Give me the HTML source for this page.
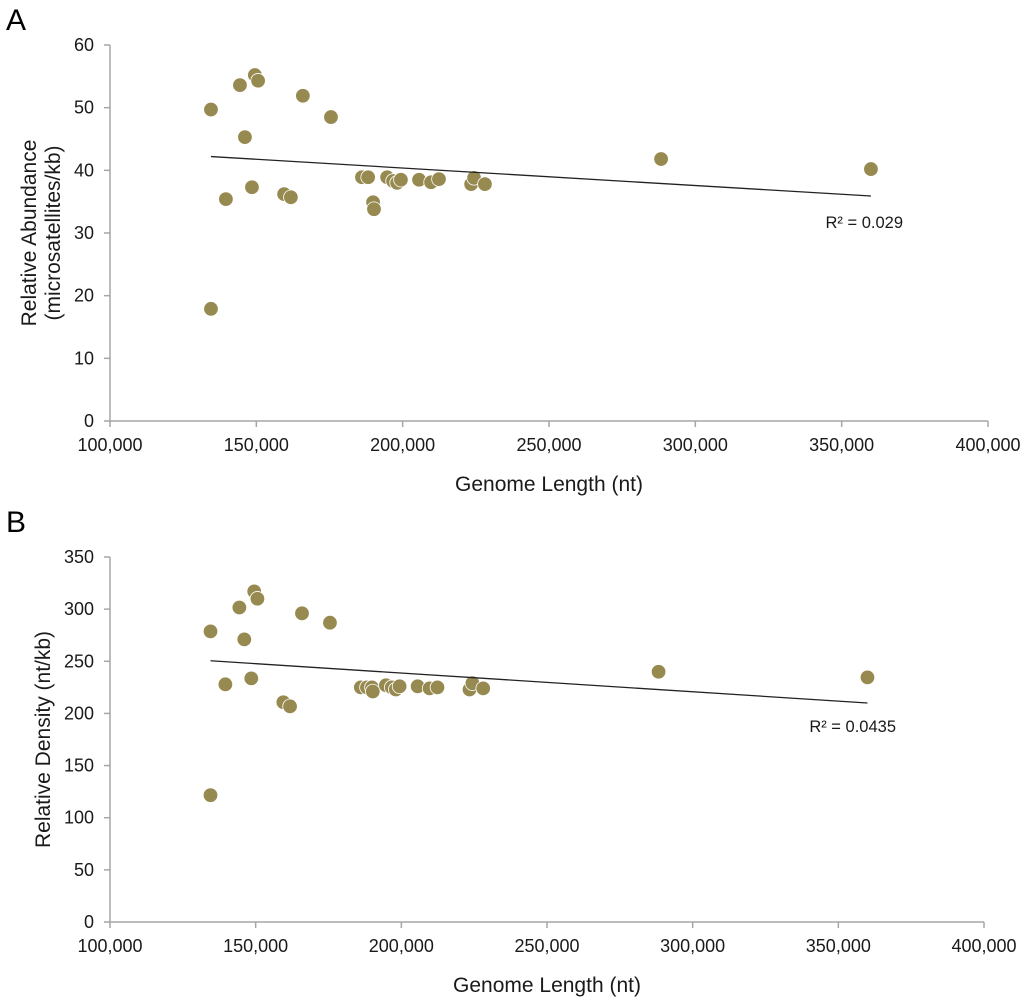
<!DOCTYPE html>
<html><head><meta charset="utf-8"><style>
html,body{margin:0;padding:0;background:#fff;}
svg{display:block;font-family:"Liberation Sans",Arial,sans-serif;}
</style></head><body>
<svg id="fig" width="1024" height="1000" viewBox="0 0 1024 1000" xmlns="http://www.w3.org/2000/svg">
<text x="6" y="30" font-size="30" fill="#000">A</text>
<text x="6" y="532" font-size="30" fill="#000">B</text>
<g id="chartA"></g>
<g id="chartB"></g>
</svg>
<script>
const genomeLength = [134500,134500,139600,144400,146100,148500,149500,150600,159500,161800,165900,175500,186100,188200,189900,190200,194700,196700,198100,199400,205600,209700,212400,223400,224400,228100,288300,360000];
const abundance = [49.7,17.9,35.4,53.6,45.3,37.3,55.2,54.3,36.2,35.7,51.9,48.5,38.9,38.9,34.9,33.8,38.9,38.3,38.0,38.5,38.5,38.1,38.6,37.8,38.8,37.8,41.8,40.2];
const densityX = [134500,134500,139600,144400,146100,148500,149500,150600,159500,161800,165900,175500,186100,188200,189900,190200,194700,196700,198100,199400,205600,209700,212400,223400,224400,228100,288300,360000];
const density = [278.7,121.6,227.9,301.6,271,233.6,317,310,210.7,206.8,296,287,225,225,225,221,227,225,223,226,226,224,225,223,229,224,240,234.6];
const trendA = [42.2,35.9];
const trendB = [250.5,210];
const xTicks = [100000,150000,200000,250000,300000,350000,400000];
const xTickLabels = ["100,000","150,000","200,000","250,000","300,000","350,000","400,000"];
const yTicksA = [0,10,20,30,40,50,60];
const yTicksB = [0,50,100,150,200,250,300,350];
const r2Labels = ["R² = 0.029","R² = 0.0435"];

const NS="http://www.w3.org/2000/svg";
function mk(parent,tag,attrs){const e=document.createElementNS(NS,tag);for(const k in attrs)e.setAttribute(k,attrs[k]);parent.appendChild(e);return e;}

function drawChart(g,cfg){
  const xs=v=>cfg.x0+(v-100000)/(400000-100000)*(cfg.x1-cfg.x0);
  const ys=v=>cfg.yb-(v-0)/(cfg.ymax)*(cfg.yb-cfg.yt);
  let ya=mk(g,'line',{x1:cfg.x0,y1:cfg.yt,x2:cfg.x0,y2:cfg.yb,stroke:'#a6a6a6','stroke-width':1.5});
  
  
  let xa=mk(g,'line',{x1:cfg.x0,y1:cfg.yb,x2:cfg.x1,y2:cfg.yb,stroke:'#a6a6a6','stroke-width':1.5});
  
  
  cfg.yTicks.forEach(t=>{
    const y=ys(t);
    let tk=mk(g,'line',{x1:cfg.x0-6,y1:y,x2:cfg.x0,y2:y,stroke:'#a6a6a6','stroke-width':1.5});
    
    
    let tx=mk(g,'text',{x:cfg.x0-16,y:y+6,'font-size':18,'text-anchor':'end',fill:'#1a1a1a'});
    tx.textContent=t;
    
    
  });
  xTicks.forEach((t,i)=>{
    const x=xs(t);
    let tk=mk(g,'line',{x1:x,y1:cfg.yb,x2:x,y2:cfg.yb+6,stroke:'#a6a6a6','stroke-width':1.5});
    
    
    let tx=mk(g,'text',{x:x,y:cfg.yb+30,'font-size':18,'text-anchor':'middle',fill:'#1a1a1a'});
    tx.textContent=xTickLabels[i];
    
    
  });
  let xt=mk(g,'text',{x:(cfg.x0+cfg.x1)/2,y:cfg.yb+70,'font-size':21,'text-anchor':'middle',fill:'#1a1a1a'});
  xt.textContent='Genome Length (nt)';
  
  
  cfg.yTitle.forEach((s,i)=>{
    const cx=cfg.titleX[i], cy=(cfg.yt+cfg.yb)/2;
    let t=mk(g,'text',{x:cx,y:cy,'font-size':21,'text-anchor':'middle',fill:'#1a1a1a',transform:`rotate(-90 ${cx} ${cy})`});
    t.textContent=s;
    
    
  });
  cfg.xd.forEach((v,i)=>{
    let c=mk(g,'circle',{cx:xs(v),cy:ys(cfg.yd[i]),r:7.3,fill:'#978a51',stroke:'#fff','stroke-width':0.8});
    
    
  });
  const mn=Math.min(...cfg.xd), mx=Math.max(...cfg.xd);
  let tl=mk(g,'line',{x1:xs(mn),y1:ys(cfg.trend[0]),x2:xs(mx),y2:ys(cfg.trend[1]),stroke:'#222','stroke-width':1.3});
  
  
  let rl=mk(g,'text',{x:cfg.r2x,y:ys(cfg.trend[1])+cfg.r2dy,'font-size':16.5,'text-anchor':'end',fill:'#1a1a1a'});
  rl.textContent=cfg.r2;
  
  
}
drawChart(document.getElementById('chartA'),{x0:110,x1:988,yt:45,yb:421,ymax:60,yTicks:yTicksA,xd:genomeLength,yd:abundance,trend:trendA,yTitle:['Relative Abundance','(microsatellites/kb)'],titleX:[36,60],r2:r2Labels[0],r2x:903,r2dy:32});
drawChart(document.getElementById('chartB'),{x0:110,x1:984,yt:557,yb:922,ymax:350,yTicks:yTicksB,xd:densityX,yd:density,trend:trendB,yTitle:['Relative Density (nt/kb)'],titleX:[50],r2:r2Labels[1],r2x:896,r2dy:29});
</script>
</body></html>
